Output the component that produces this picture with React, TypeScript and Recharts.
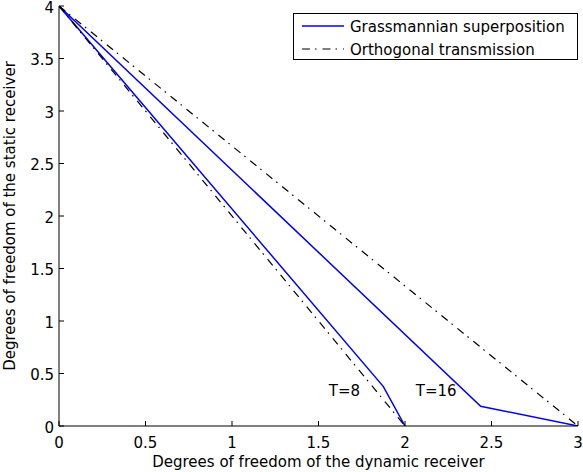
import React from "react"
import { LineChart, Line, XAxis, YAxis, ReferenceDot, Legend } from "recharts"

// tick labels
const xTicks = [0, 0.5, 1, 1.5, 2, 2.5, 3]
const yTicks = [0, 0.5, 1, 1.5, 2, 2.5, 3, 3.5, 4]

// Grassmannian superposition (blue, solid)
const grassT8X = [0, 1.875, 2]
const grassT8Y = [4, 0.375, 0]
const grassT16X = [0, 2.4375, 3]
const grassT16Y = [4, 0.1875, 0]

// Orthogonal transmission (black, dash-dot)
const orthoT8X = [0, 2]
const orthoT8Y = [4, 0]
const orthoT16X = [0, 3]
const orthoT16Y = [4, 0]

// curve annotations
const noteText = ["T=8", "T=16"]
const noteX = [1.65, 2.18]
const noteY = [0.336, 0.336]

const toPoints = (xs: number[], ys: number[]) => xs.map((x, i) => ({ x, y: ys[i] }))

const FONT = "'DejaVu Sans', 'Liberation Sans', Arial, sans-serif"
const FS = 15
const BLUE = "#0000ff"
const DASHDOT = "8 5 1.5 6"

const BottomTick = (props: any) => {
  const { x, y, payload } = props
  return (
    <g>
      <line x1={x} y1={y} x2={x} y2={y - 5} stroke="#000" />
      <text x={x} y={y + 21.5} textAnchor="middle" fontSize={FS} fontFamily={FONT} fill="#000">
        {String(payload.value)}
      </text>
    </g>
  )
}

const LeftTick = (props: any) => {
  const { x, y, payload } = props
  return (
    <g>
      <line x1={x} y1={y} x2={x + 5} y2={y} stroke="#000" />
      <text x={x - 5} y={y + 6.5} textAnchor="end" fontSize={FS} fontFamily={FONT} fill="#000">
        {String(payload.value)}
      </text>
    </g>
  )
}

const TopTick = (props: any) => {
  const { x, y } = props
  return <line x1={x} y1={y} x2={x} y2={y + 5} stroke="#000" />
}

const RightTick = (props: any) => {
  const { x, y } = props
  return <line x1={x} y1={y} x2={x - 5} y2={y} stroke="#000" />
}

const XTitle = (props: any) => {
  const vb = props.viewBox || { x: 59, y: 426, width: 519, height: 46 }
  return (
    <text x={vb.x + vb.width / 2} y={vb.y + 41} textAnchor="middle" fontSize={FS} fontFamily={FONT} fill="#000">
      Degrees of freedom of the dynamic receiver
    </text>
  )
}

const YTitle = (props: any) => {
  const vb = props.viewBox || { x: 0, y: 6, width: 59, height: 420 }
  const cx = vb.x + 15
  const cy = vb.y + vb.height / 2
  return (
    <text x={cx} y={cy} transform={`rotate(-90 ${cx} ${cy})`} textAnchor="middle" fontSize={FS} fontFamily={FONT} fill="#000">
      Degrees of freedom of the static receiver
    </text>
  )
}

const LegendBox = (props: any) => {
  const seen = new Set<string>()
  const items = (props.payload || []).filter((p: any) => {
    if (seen.has(p.value)) return false
    seen.add(p.value)
    return true
  })
  return (
    <svg width={285} height={47} style={{ display: "block" }}>
      <rect x={0.5} y={0.5} width={284} height={46} fill="#fff" stroke="#000" />
      {items.map((it: any, i: number) => {
        const cy = 13 + i * 23
        return (
          <g key={it.value}>
            <line
              x1={9}
              y1={cy}
              x2={51}
              y2={cy}
              stroke={it.color}
              strokeWidth={it.payload?.strokeWidth ?? 1.5}
              strokeDasharray={it.payload?.strokeDasharray}
            />
            <text x={57} y={cy + 5.5} fontSize={FS} fontFamily={FONT} fill="#000">
              {it.value}
            </text>
          </g>
        )
      })}
    </svg>
  )
}

export default function App() {
  return (
    <div style={{ position: "absolute", left: 0, top: 0, background: "#fff" }}>
      <LineChart width={583} height={472} margin={{ top: 6, right: 5, bottom: 0, left: 0 }}>
        <XAxis
          xAxisId="bottom"
          type="number"
          dataKey="x"
          domain={[0, 3]}
          ticks={xTicks}
          interval={0}
          height={46}
          tickSize={0}
          tickMargin={0}
          tickLine={false}
          tick={<BottomTick />}
          axisLine={{ stroke: "#000" }}
          label={<XTitle />}
          allowDataOverflow
        />
        <XAxis
          xAxisId="top"
          orientation="top"
          type="number"
          dataKey="x"
          domain={[0, 3]}
          ticks={xTicks}
          interval={0}
          height={0}
          tickSize={0}
          tickMargin={0}
          tickLine={false}
          tick={<TopTick />}
          axisLine={{ stroke: "#000" }}
          allowDataOverflow
        />
        <YAxis
          yAxisId="left"
          type="number"
          domain={[0, 4]}
          ticks={yTicks}
          interval={0}
          width={59}
          tickSize={0}
          tickMargin={0}
          tickLine={false}
          tick={<LeftTick />}
          axisLine={{ stroke: "#000" }}
          label={<YTitle />}
          allowDataOverflow
        />
        <YAxis
          yAxisId="right"
          orientation="right"
          type="number"
          domain={[0, 4]}
          ticks={yTicks}
          interval={0}
          width={0}
          tickSize={0}
          tickMargin={0}
          tickLine={false}
          tick={<RightTick />}
          axisLine={{ stroke: "#000" }}
          allowDataOverflow
        />
        <Legend
          layout="vertical"
          align="center"
          verticalAlign="middle"
          content={<LegendBox />}
          wrapperStyle={{ position: "absolute", left: 293, top: 13, width: 285, height: 47 }}
        />
        <Line
          xAxisId="bottom"
          yAxisId="left"
          data={toPoints(grassT8X, grassT8Y)}
          dataKey="y"
          name="Grassmannian superposition"
          stroke={BLUE}
          strokeWidth={1.5}
          dot={false}
          isAnimationActive={false}
        />
        <Line
          xAxisId="bottom"
          yAxisId="left"
          data={toPoints(grassT16X, grassT16Y)}
          dataKey="y"
          name="Grassmannian superposition"
          stroke={BLUE}
          strokeWidth={1.5}
          dot={false}
          isAnimationActive={false}
        />
        <Line
          xAxisId="bottom"
          yAxisId="left"
          data={toPoints(orthoT8X, orthoT8Y)}
          dataKey="y"
          name="Orthogonal transmission"
          stroke="#000"
          strokeWidth={1.2}
          strokeDasharray={DASHDOT}
          dot={false}
          isAnimationActive={false}
        />
        <Line
          xAxisId="bottom"
          yAxisId="left"
          data={toPoints(orthoT16X, orthoT16Y)}
          dataKey="y"
          name="Orthogonal transmission"
          stroke="#000"
          strokeWidth={1.2}
          strokeDasharray={DASHDOT}
          dot={false}
          isAnimationActive={false}
        />
        {noteText.map((t, i) => (
          <ReferenceDot
            key={t}
            xAxisId="bottom"
            yAxisId="left"
            x={noteX[i]}
            y={noteY[i]}
            r={0}
            fill="none"
            stroke="none"
            label={{ value: t, position: "center", fill: "#000", fontSize: FS, fontFamily: FONT }}
          />
        ))}
      </LineChart>
    </div>
  )
}
